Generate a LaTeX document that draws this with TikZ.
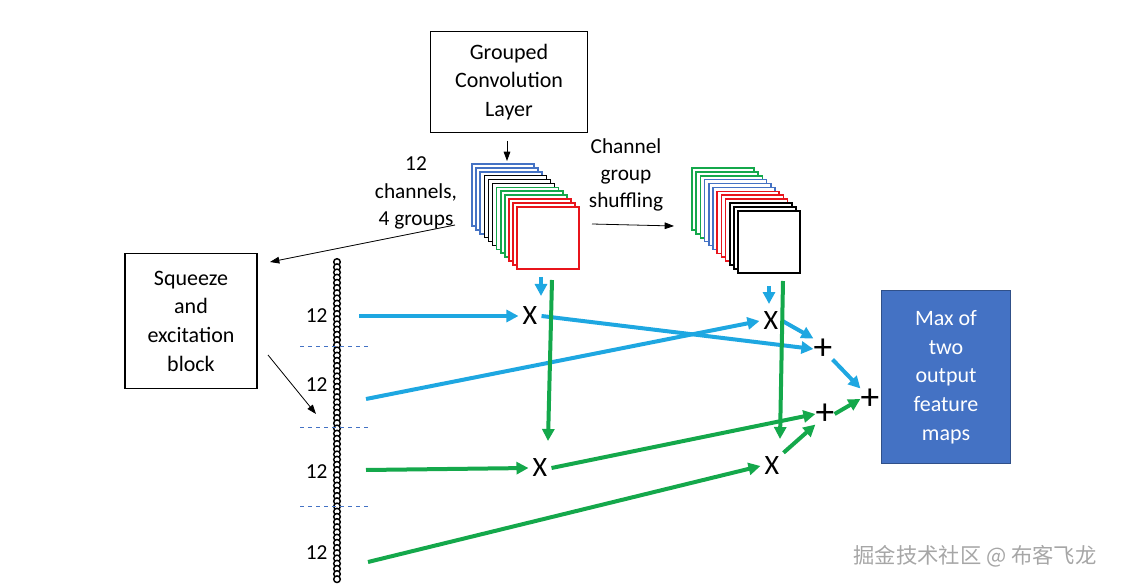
\documentclass[tikz,border=0pt]{standalone}
\usepackage{fontspec}
\setmainfont{Carlito}
\newfontfamily\cjk{Noto Sans CJK SC}
\usetikzlibrary{arrows.meta}
\definecolor{sb}{HTML}{1EA7E1}
\definecolor{sg}{HTML}{14A84B}
\definecolor{cb}{HTML}{4472C4}
\definecolor{cr}{HTML}{E8141B}
\begin{document}
\begin{tikzpicture}[x=0.75pt,y=-0.75pt,
  box/.style={draw,line width=1pt,align=center,font=\fontsize{16.5}{21.5}\selectfont},
  lbl/.style={align=center,font=\fontsize{16}{20.5}\selectfont},
  op/.style={font=\fontsize{21}{21}\selectfont,inner sep=3pt},
  pl/.style={font=\fontsize{28}{28}\selectfont,inner sep=0pt,minimum size=14pt},
  thin/.style={-{Triangle[length=7pt,width=5pt]},line width=0.6pt},
  fat/.style={-{Triangle[length=9pt,width=9pt]},line width=3pt}]
\useasboundingbox (0,0) rectangle (1136,588);
\node[box,minimum width=118pt,minimum height=76pt] (gc) at (509,82) {Grouped\\Convolution\\Layer};
\node[box,minimum width=99pt,minimum height=101pt] (se) at (191,321) {Squeeze\\and\\excitation\\block};
\node[draw=cb!70!black,fill=cb,minimum width=97pt,minimum height=130pt,align=center,text=white,font=\fontsize{16.5}{21.5}\selectfont] (mx) at (946,377) {Max of\\two\\output\\feature\\maps};
% stacks
\foreach \c [count=\i from 0] in {cb,cb,cb,black,black,black,sg,sg,sg,cr,cr,cr}
  \draw[\c,fill=white,line width=1.2pt] (472+4.1*\i,164+3.9*\i) rectangle ++(62,62);
\foreach \c [count=\i from 0] in {sg,sg,sg,cb,cb,cb,cr,cr,cr,black,black,black}
  \draw[\c,fill=white,line width=1.2pt] (692+4.2*\i,168+3.9*\i) rectangle ++(62,62);
\node[lbl] (ch) at (416,193) {12\\channels,\\4 groups};
\node[lbl] (sh) at (626,175) {Channel\\group\\shuffling};
\coordinate (gcb) at (507,141);
\coordinate (st1) at (507,161);
\draw[thin] (gcb) -- (st1);
\coordinate (sha) at (592,224); \coordinate (shb) at (674,226);
\draw[thin] (sha) -- (shb);
\coordinate (ca) at (455,225); \coordinate (cb2) at (270,262);
\draw[thin] (ca) -- (cb2);
\coordinate (sea) at (268,355); \coordinate (seb) at (316,414);
\draw[thin] (sea) -- (seb);
% chain
\foreach \y in {262,267.2,...,580}
  \draw[line width=1.1pt,fill=white] (337,\y) circle (3.3);
\foreach \y in {346,427,506}
  \draw[cb,dashed,line width=0.5pt] (300,\y) -- (370,\y);
\foreach \y/\n in {316/a,385/b,472/c,553/d}
  \node[lbl,anchor=east,inner sep=1pt] (n\n) at (329,\y) {12};
% ops
\node[op] (x1) at (530,316) {X};
\node[op] (x2) at (771,321) {X};
\node[op] (x3) at (540,468) {X};
\node[op] (x4) at (772,466) {X};
\node[pl] (p1) at (823,349) {+};
\node[pl] (p2) at (825,414) {+};
\node[pl] (p3) at (870,399) {+};
% blue arrows
\coordinate (b1) at (359,316); \coordinate (b2) at (366,399);
\draw[fat,sb] (b1) -- (x1);
\coordinate (t1) at (541,277); \draw[fat,sb] (t1) -- (541,296);
\coordinate (t2) at (769,286); \draw[fat,sb] (t2) -- (769,304);
\draw[fat,sb] (x1.east) -- (p1.west);
\draw[fat,sb] (b2) -- (x2.west);
\draw[fat,sb] (x2.east) -- (p1.north west);
\draw[fat,sb] (p1.south east) -- (p3.north west);
% green arrows
\coordinate (g1) at (552,280); \coordinate (g2) at (783,281);
\coordinate (g3) at (366,470); \coordinate (g4) at (368,562);
\draw[fat,sg] (g1) -- (548,441);
\draw[fat,sg] (g2) -- (780,439);
\draw[fat,sg] (g3) -- (x3.west);
\draw[fat,sg] (x3.east) -- (p2.west);
\draw[fat,sg] (g4) -- (x4.west);
\draw[fat,sg] (x4.north east) -- (p2.south west);
\draw[fat,sg] (p2.east) -- (p3.west);
\node[text=gray!70,font=\cjk\fontsize{16}{16}\selectfont] (wm) at (975,556) {掘金技术社区 @ 布客飞龙};
\end{tikzpicture}
\end{document}
